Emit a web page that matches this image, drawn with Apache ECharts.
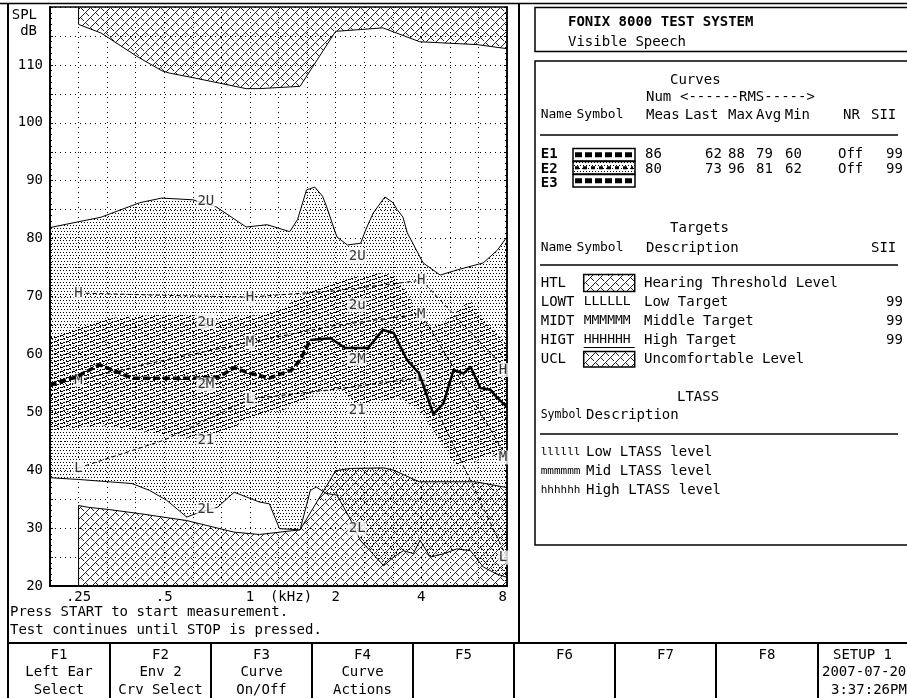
<!DOCTYPE html>
<html>
<head>
<meta charset="utf-8">
<script src="https://cdn.jsdelivr.net/npm/echarts@6/dist/echarts.min.js"></script>
<style>
html,body{margin:0;padding:0;background:#fff;overflow:hidden;}
#chart{width:907px;height:698px;}
</style>
</head>
<body>
<div id="chart"></div>
<script>
// ---------------- data ----------------
const freqTickKHz = [0.25, 0.5, 1, 2, 4, 8];
const freqTickLabels = ['.25', '.5', '1', '2', '4', '8'];
const splLabelStep = 10;

// [kHz, dB SPL]
const uclCurve = [[0.25,120],[0.25,117],[0.3,115.5],[0.4,111.5],[0.49,109],[0.52,108.6],[0.63,107.8],[0.97,105.9],[1.08,105.9],[1.5,106.3],[2.0,115.8],[2.44,116.1],[2.93,116.4],[3.95,114],[6.3,113.5],[8,112.8]];
const htlCurve = [[0.25,20],[0.25,33.9],[0.27,33.6],[0.32,33.2],[0.41,32.5],[0.6,31.3],[0.88,29.3],[1.08,28.9],[1.5,29.7],[2.0,39.9],[2.25,40.3],[2.95,40.4],[3.2,40.0],[3.93,38.0],[6.2,38.0],[8.0,37.0]];
const e2Upper = [[0.198,81.9],[0.3,83.7],[0.41,86.2],[0.49,87.0],[0.63,86.7],[0.76,85.5],[0.97,82.0],[1.15,82.4],[1.38,81.2],[1.47,83.3],[1.58,88.4],[1.69,88.9],[1.8,87.3],[1.86,85.5],[2.02,80.3],[2.2,78.9],[2.45,79.2],[2.55,81.5],[2.71,84.4],[2.98,87.2],[3.18,86.2],[3.29,85.0],[3.45,83.7],[3.57,81.0],[4.06,75.8],[4.66,73.7],[5.35,74.6],[6.6,75.8],[7.4,78.0],[8.0,80.3]];
const e2UpperQ = [[0.198,63.0],[0.32,66.3],[0.48,66.8],[0.63,66.8],[0.77,66.0],[0.92,66.6],[1.08,66.8],[1.31,68.2],[1.72,71.6],[2.25,73.2],[2.93,74.1],[3.25,73.4],[3.57,70.6],[3.96,66.3],[4.4,64.5],[5.06,66.5],[5.95,69.4],[6.55,66.5],[7.58,63.0],[8.0,61.3]];
const e2Mid = [[0.198,54.7],[0.245,56.1],[0.296,58.2],[0.33,57.3],[0.385,55.9],[0.5,55.9],[0.63,55.9],[0.78,56.1],[0.88,57.7],[0.99,56.8],[1.17,55.9],[1.4,57.3],[1.5,59.0],[1.63,62.5],[1.92,62.8],[2.16,61.1],[2.6,61.1],[2.7,62.1],[2.93,64.2],[3.2,63.7],[3.57,59.0],[3.93,56.7],[4.41,49.7],[4.78,51.5],[5.19,57.3],[5.63,56.7],[5.95,57.9],[6.45,54.2],[7.0,53.9],[7.33,52.7],[8.0,50.9]];
const e2LowerQ = [[0.198,46.9],[0.3,47.8],[0.44,46.6],[0.69,45.2],[0.85,46.9],[1.0,49.2],[1.31,50.4],[1.72,53.3],[2.07,54.3],[2.38,51.2],[2.87,52.0],[3.37,52.4],[3.96,50.4],[4.5,46.1],[5.3,40.9],[6.2,41.5],[7.0,42.7],[8.0,41.7]];
const e2Lower = [[0.198,38.7],[0.25,38.4],[0.3,38.1],[0.385,37.7],[0.444,36.5],[0.51,34.8],[0.6,31.9],[0.67,32.8],[0.77,33.6],[0.88,36.2],[1.08,34.5],[1.17,34.2],[1.27,29.9],[1.5,29.7],[1.63,36.5],[1.71,37.1],[1.85,36.0],[2.02,35.7],[2.25,31.6],[2.44,27.9],[2.64,26.1],[2.95,23.5],[3.2,25.0],[3.46,26.1],[3.75,25.6],[3.96,27.9],[4.3,25.0],[4.82,25.6],[5.33,26.4],[5.95,26.1],[6.6,23.3],[7.33,22.1],[8.0,21.5]];
const targetHigh = [[0.25,70.6],[0.5,70.2],[1,69.9],[2,71.0],[4,72.8],[8,57.3]];
const targetMid  = [[0.25,55.6],[0.5,59.0],[1,62.1],[2,65.0],[4,67.0],[8,42.2]];
const targetLow  = [[0.25,40.4],[0.5,45.2],[1,52.3],[2,54.0],[4,56.0],[8,24.9]];
const targetLetterKHz = [0.25, 1, 4, 8];
const curveTags = [['2U',0.7,86.4],['2U',2.38,77.0],['2u',0.7,65.6],['2u',2.38,68.5],['2M',0.7,54.8],['2M',2.38,59.2],['21',0.7,45.2],['21',2.38,50.4],['2L',0.7,33.2],['2L',2.38,29.9]];

// text content
const statusLines = ['Press START to start measurement.', 'Test continues until STOP is pressed.'];
const fKeyTexts = [['F1','Left Ear','Select'],['F2','Env 2','Crv Select'],['F3','Curve','On/Off'],['F4','Curve','Actions'],['F5'],['F6'],['F7'],['F8']];
const setupTexts = ['SETUP 1','2007-07-20','3:37:26PM'];
const curveHeader = ['Name','Symbol','Meas','Last','Max','Avg','Min','NR','SII'];
const curveNames = ['E1','E2','E3'];
const curveNumMeas = [86, 80];
const curveLast = [62, 73];
const curveMax = [88, 96];
const curveAvg = [79, 81];
const curveMin = [60, 62];
const curveNR = ['Off', 'Off'];
const curveSII = [99, 99];
const targetNames = ['HTL','LOWT','MIDT','HIGT','UCL'];
const targetSymbols = ['', 'LLLLLL', 'MMMMMM', 'HHHHHH', ''];
const targetDesc = ['Hearing Threshold Level','Low Target','Middle Target','High Target','Uncomfortable Level'];
const targetSII = ['', '99', '99', '99', ''];
const ltassSymbols = ['llllll','mmmmmm','hhhhhh'];
const ltassDesc = ['Low LTASS level','Mid LTASS level','High LTASS level'];

// ---------------- helpers / styles ----------------
const FONT = '"DejaVu Sans Mono", monospace';
const fx = f => 3 * Math.log2(f);            // axis unit = 1/3 octave
function makeTile(w, h, pixels, color) {
  const c = document.createElement('canvas'); c.width = w; c.height = h;
  const g = c.getContext('2d'); g.fillStyle = color;
  pixels.forEach(([x, y]) => g.fillRect(((x % w) + w) % w, ((y % h) + h) % h, 1, 1));
  return c;
}
const herringPx = [];
[[0,7],[1,6],[2,5],[3,4],[4,3],[6,3],[7,4],[8,5]].forEach(([x,y]) => { herringPx.push([x,y]); herringPx.push([x+5,y+5]); });
const herringTile = makeTile(10, 10, herringPx, '#222');
const stippleTile = makeTile(6, 6, [[0,0],[3,0],[1,3],[4,3]], '#000');
const stripePx = []; for (let x = 0; x < 12; x++) { if (x % 6 === 5) continue; stripePx.push([x, 3 - Math.floor(x / 3)]); }
const stripeTile = makeTile(12, 4, stripePx, '#000');
const pat = c => ({ image: c, repeat: 'repeat' });

function bandSeries(upper, lower, tile, z) {
  return { type: 'custom', z, silent: true, animation: false, data: [[0, 50]],
    renderItem: (params, api) => ({ type: 'polygon',
      shape: { points: upper.concat(lower.slice().reverse()).map(p => api.coord([fx(p[0]), p[1]])) },
      style: { fill: pat(tile), stroke: null } }) };
}
function lineSeries(curve, z, style, extra) {
  return Object.assign({ type: 'line', z, silent: true, animation: false, symbol: 'none', showSymbol: false,
    data: curve.map(p => [fx(p[0]), p[1]]), lineStyle: style }, extra || {});
}
const labelStyle = { show: true, position: 'inside', color: '#000', fontFamily: FONT, fontSize: 14, backgroundColor: '#fff', padding: [0, 1] };
function letterSeries(curve, letter) {
  return { type: 'scatter', z: 6, silent: true, animation: false, symbolSize: 1, itemStyle: { color: 'rgba(0,0,0,0)' },
    data: curve.filter(p => targetLetterKHz.includes(p[0])).map(p => ({ value: [fx(p[0]), p[1]], label: p[0] === 8 ? { offset: [-4, 0] } : {} })),
    label: Object.assign({}, labelStyle, { formatter: letter }) };
}
const split2M = e2Mid.findIndex(p => p[0] >= 1.6);

// ---------------- graphic (screen furniture) ----------------
const G = [];
const T = (x, y, text, o) => { o = o || {}; G.push({ type: 'text', x, y, silent: true, z: 100,
  style: { text, font: (o.bold ? 'bold ' : '') + (o.size || 14) + 'px ' + FONT, fill: '#000',
    align: o.align || 'left', verticalAlign: 'middle', textAlign: o.align || 'left', textVerticalAlign: 'middle' } }); };
const L = (x1, y1, x2, y2, w, dash) => G.push({ type: 'line', silent: true, z: 100, shape: { x1, y1, x2, y2 },
  style: { stroke: '#000', lineWidth: w || 1.5, lineDash: dash || null } });
const R = (x, y, w, h, fill, lw) => G.push({ type: 'rect', silent: true, z: 100, shape: { x, y, width: w, height: h },
  style: { stroke: '#000', fill: fill || 'none', lineWidth: lw || 1.5 } });

// frame
L(0, 3.5, 907, 3.5, 1.5);
L(8, 3.5, 8, 698, 2);
L(519, 3.5, 519, 643, 2);
L(8, 643, 907, 643, 2);
const fDividers = [110, 211, 312, 413, 514, 615, 716, 818];
fDividers.forEach(x => L(x, 643, x, 698, 2));
// plot captions
T(37, 15, 'SPL', { align: 'right' });
T(37, 31, 'dB', { align: 'right' });
T(291, 597, '(kHz)', { align: 'center' });
statusLines.forEach((s, i) => T(10, 612 + i * 18, s));
// function keys
const fBounds = [8].concat(fDividers);
fKeyTexts.forEach((lines, i) => {
  const cx = (fBounds[i] + fBounds[i + 1]) / 2;
  lines.forEach((s, j) => T(cx, [655, 672, 690][j], s, { align: 'center' }));
});
[833, 822, 831].forEach((x, j) => T(x, [655, 672, 690][j], setupTexts[j]));

// right panel
R(535, 7.5, 380, 44);
T(568, 22, 'FONIX 8000 TEST SYSTEM', { bold: true });
T(568, 42, 'Visible Speech');
R(535, 61, 380, 484);
T(670, 80, 'Curves');
T(646, 97, 'Num');
T(680, 97, '<------RMS----->');
const colX = [540.7, 576.5, 646, 684.7, 728, 756, 784.7, 843, 871];
curveHeader.forEach((s, i) => T(colX[i], 115, s, { size: i < 2 ? 13 : 14 }));
L(540, 135, 898, 135, 1.5);
const rowY = [154, 169, 183];
const valX = [645, 705, 728, 756, 785, 838, 886];
curveNames.forEach((n, i) => {
  T(540.7, rowY[i], n, { bold: true });
  const by = [148.5, 161.5, 174.5][i];
  R(573, by, 62, 12.5, i === 1 ? pat(stippleTile) : 'none', 1.5);
  L(575, by + 6.25, 633, by + 6.25, i === 1 ? 3 : 5, i === 1 ? [4, 4] : [7, 3]);
  if (i < curveNumMeas.length) {
    [curveNumMeas[i], curveLast[i], curveMax[i], curveAvg[i], curveMin[i], curveNR[i], curveSII[i]]
      .forEach((v, k) => T(valX[k], rowY[i], String(v)));
  }
});
T(670, 228, 'Targets');
T(540.7, 248, 'Name', { size: 13 }); T(576.5, 248, 'Symbol', { size: 13 }); T(646, 248, 'Description'); T(871, 248, 'SII');
L(540, 265, 898, 265, 1.5);
const tRowY = [283, 302, 321, 340, 359];
targetNames.forEach((n, i) => {
  T(540.7, tRowY[i], n);
  if (targetSymbols[i]) T(583.7, tRowY[i], targetSymbols[i], { size: 13 });
  T(644, tRowY[i], targetDesc[i]);
  if (targetSII[i]) T(886, tRowY[i], targetSII[i]);
});
R(583.7, 274.5, 51, 17, pat(herringTile), 1.5);
R(583.7, 351.5, 51, 15.5, pat(herringTile), 1.5);
L(583.7, 347.5, 634.7, 347.5, 1);
T(677, 397, 'LTASS');
T(540.7, 415, 'Symbol', { size: 11.5 }); T(586, 415, 'Description');
L(540, 434, 898, 434, 1.5);
const lRowY = [452, 471, 490];
ltassSymbols.forEach((s, i) => { T(540.7, lRowY[i], s, { size: 11 }); T(586, lRowY[i], ltassDesc[i]); });

// ---------------- chart ----------------
const chart = echarts.init(document.getElementById('chart'), null, { renderer: 'canvas' });
const dotted = { color: '#000', width: 1, type: [1, 4] };
chart.setOption({
  animation: false,
  backgroundColor: '#fff',
  grid: { left: 50, right: 400, top: 7, bottom: 112, show: true, borderColor: '#000', borderWidth: 1.5 },
  xAxis: { type: 'value', min: -7, max: 9, interval: 1,
    axisLine: { show: true, onZero: false, lineStyle: { color: '#000', width: 2 } }, axisTick: { show: false },
    splitLine: { show: true, lineStyle: dotted },
    axisLabel: { color: '#000', fontFamily: FONT, fontSize: 14, margin: 4, showMaxLabel: true, alignMaxLabel: 'right', hideOverlap: false,
      formatter: v => { const i = freqTickKHz.findIndex(f => Math.abs(fx(f) - v) < 1e-6); return i >= 0 ? freqTickLabels[i] : ''; } } },
  yAxis: [
    { type: 'value', min: 20, max: 120, interval: 5, position: 'left',
      axisLine: { show: true, onZero: false, lineStyle: { color: '#000', width: 2 } },
      axisTick: { show: true, inside: true, length: 3, lineStyle: { color: '#000' } },
      minorTick: { show: true, splitNumber: 5, length: 2, lineStyle: { color: '#000' } },
      splitLine: { show: true, lineStyle: dotted },
      axisLabel: { color: '#000', fontFamily: FONT, fontSize: 14, margin: 7,
        formatter: v => (v % splLabelStep === 0 && v < 120) ? String(v) : '' } },
    { type: 'value', min: 20, max: 120, interval: 5, position: 'right',
      axisLine: { show: true, onZero: false, lineStyle: { color: '#000', width: 1.5 } },
      axisTick: { show: true, inside: true, length: 3, lineStyle: { color: '#000' } },
      minorTick: { show: true, splitNumber: 5, length: 2, lineStyle: { color: '#000' } },
      splitLine: { show: false }, axisLabel: { show: false } }
  ],
  series: [
    bandSeries(e2Upper, e2Lower, stippleTile, 1),
    bandSeries(e2UpperQ, e2LowerQ, stripeTile, 2),
    lineSeries(uclCurve, 3, { color: '#000', width: 1 }, { areaStyle: { origin: 'end', color: pat(herringTile), opacity: 1 } }),
    lineSeries(htlCurve, 3, { color: '#000', width: 1 }, { areaStyle: { origin: 'start', color: pat(herringTile), opacity: 1 } }),
    lineSeries(e2Upper, 4, { color: '#000', width: 1 }),
    lineSeries(e2Lower, 4, { color: '#000', width: 1 }),
    lineSeries(targetHigh, 5, { color: '#000', width: 1, type: [4, 3] }),
    lineSeries(targetMid, 5, { color: '#000', width: 1, type: [4, 3] }),
    lineSeries(targetLow, 5, { color: '#000', width: 1, type: [4, 3] }),
    letterSeries(targetHigh, 'H'),
    letterSeries(targetMid, 'M'),
    letterSeries(targetLow, 'L'),
    lineSeries(e2Mid.slice(0, split2M + 1), 7, { color: '#000', width: 3.5, type: [7, 3] }),
    lineSeries(e2Mid.slice(split2M), 7, { color: '#000', width: 2.5 }),
    { type: 'scatter', z: 8, silent: true, animation: false, symbolSize: 1, itemStyle: { color: 'rgba(0,0,0,0)' },
      data: curveTags.map(t => ({ value: [fx(t[1]), t[2]], name: t[0] })),
      label: Object.assign({}, labelStyle, { formatter: p => p.name }) }
  ],
  graphic: G
});
</script>
</body>
</html>
